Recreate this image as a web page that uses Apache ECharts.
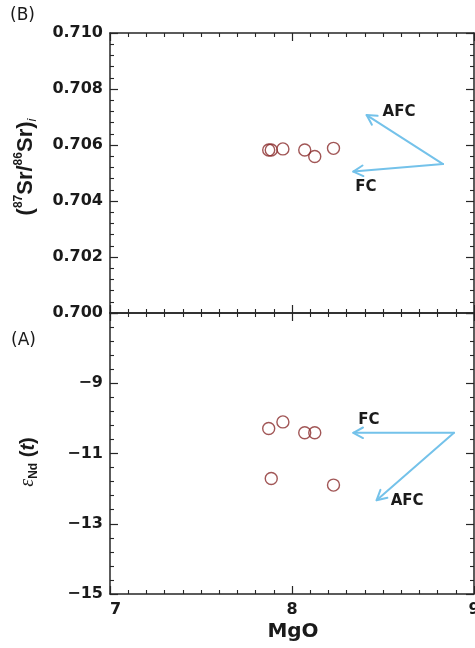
<!DOCTYPE html>
<html>
<head>
<meta charset="utf-8">
<script src="https://cdn.jsdelivr.net/npm/echarts@6/dist/echarts.min.js"></script>
<style>
  html, body { margin: 0; padding: 0; background: #ffffff; }
  #chart { width: 475px; height: 648px; }
</style>
</head>
<body>
<div id="chart"></div>
<script>
// MgO (wt.%) of the six samples, shared by both panels
const mgo = [7.872, 7.886, 7.95, 8.07, 8.125, 8.228];
// Panel B: initial 87Sr/86Sr ratios
const srInitial = [0.70582, 0.70582, 0.70586, 0.70582, 0.70559, 0.70588];
// Panel A: eNd(t)
const epsNd = [-10.29, -11.71, -10.10, -10.41, -10.41, -11.90];

// Tick values and their printed labels
const mgoTicks = [7, 8, 9];
const mgoTickLabels = ['7', '8', '9'];
const srTicks = [0.700, 0.702, 0.704, 0.706, 0.708, 0.710];
const srTickLabels = ['0.700', '0.702', '0.704', '0.706', '0.708', '0.710'];
const ndTicks = [-15, -13, -11, -9, -7];
const ndTickLabels = ['\u221215', '\u221213', '\u221211', '\u22129', ''];

// Trend vectors: common start point, tips and names
const srTrendStart = [8.83, 0.70532];
const srTrendTips = [[8.41, 0.70707], [8.337, 0.70505]];
const srTrendNames = ['AFC', 'FC'];
const ndTrendStart = [8.89, -10.41];
const ndTrendTips = [[8.337, -10.41], [8.465, -12.33]];
const ndTrendNames = ['FC', 'AFC'];

// Pixel offsets of the trend labels from the arrow tips
const srLabelOffsets = { AFC: [16, -3], FC: [2, 16] };
const ndLabelOffsets = { FC: [5, -13], AFC: [14, 1] };

const INK = '#262626';
const ARROW = '#74c2ea';
const RING = '#8a2c2c';

function lookup(ticks, labels) {
  return function (v) {
    for (let i = 0; i < ticks.length; i++) {
      if (Math.abs(ticks[i] - v) < 1e-9) return labels[i];
    }
    return '';
  };
}

const tickFont = { color: '#1a1a1a', fontFamily: 'DejaVu Sans', fontWeight: 'bold', fontSize: 16 };

function axisBase(range, interval, minorSplit) {
  return {
    type: 'value',
    min: range[0],
    max: range[1],
    interval: interval,
    axisLine: { show: true, onZero: false, lineStyle: { color: INK, width: 1.5 } },
    axisTick: { show: true, inside: true, length: 8, lineStyle: { color: INK, width: 1.2 } },
    minorTick: { show: true, splitNumber: minorSplit, length: 4, lineStyle: { color: INK, width: 1.1 } },
    splitLine: { show: false },
    minorSplitLine: { show: false },
    axisLabel: { show: false }
  };
}

const mgoRange = [mgoTicks[0], mgoTicks[mgoTicks.length - 1]];
const srRange = [srTicks[0], srTicks[srTicks.length - 1]];
const ndRange = [ndTicks[0], ndTicks[ndTicks.length - 1]];
const mgoStep = 1, srStep = 0.002, ndStep = 2;

function xAxis(grid, position, labelled) {
  const a = axisBase(mgoRange, mgoStep, 10);
  a.gridIndex = grid;
  a.position = position;
  if (labelled) {
    a.axisLabel = Object.assign({ show: true, margin: 8, alignMinLabel: 'left',
      formatter: lookup(mgoTicks, mgoTickLabels) }, tickFont);
  }
  return a;
}

function yAxis(grid, position, range, step, ticks, labels) {
  const a = axisBase(range, step, 5);
  a.gridIndex = grid;
  a.position = position;
  if (labels) {
    a.axisLabel = Object.assign({ show: true, margin: 7, formatter: lookup(ticks, labels) }, tickFont);
  }
  return a;
}

function trendSeries(xi, yi, start, tips, names, offsets) {
  const rows = tips.map((t, i) => [start[0], start[1], t[0], t[1], names[i]]);
  return {
    type: 'custom',
    xAxisIndex: xi,
    yAxisIndex: yi,
    silent: true,
    clip: false,
    data: rows,
    renderItem: function (params, api) {
      const row = rows[params.dataIndex];
      const p0 = api.coord([row[0], row[1]]);
      const p1 = api.coord([row[2], row[3]]);
      const dx = p1[0] - p0[0], dy = p1[1] - p0[1];
      const len = Math.sqrt(dx * dx + dy * dy);
      const bx = -dx / len, by = -dy / len;
      const headLen = 11, ang = 0.5;
      const arm = s => [
        p1[0] + headLen * (bx * Math.cos(s * ang) - by * Math.sin(s * ang)),
        p1[1] + headLen * (bx * Math.sin(s * ang) + by * Math.cos(s * ang))
      ];
      const off = offsets[row[4]];
      const lineStyle = { stroke: ARROW, lineWidth: 2, fill: null, lineCap: 'round', lineJoin: 'round' };
      return {
        type: 'group',
        children: [
          { type: 'polyline', shape: { points: [p0, p1] }, style: lineStyle },
          { type: 'polyline', shape: { points: [arm(1), p1, arm(-1)] }, style: lineStyle },
          {
            type: 'text',
            x: p1[0] + off[0],
            y: p1[1] + off[1],
            style: {
              text: row[4],
              fill: '#1a1a1a',
              font: 'bold 15px "DejaVu Sans"',
              align: 'left',
              verticalAlign: 'middle'
            }
          }
        ]
      };
    }
  };
}

function scatterSeries(xi, yi, ys) {
  return {
    type: 'scatter',
    xAxisIndex: xi,
    yAxisIndex: yi,
    symbol: 'circle',
    symbolSize: 12,
    data: mgo.map((x, i) => [x, ys[i]]),
    itemStyle: { color: 'rgba(0,0,0,0)', borderColor: RING, borderWidth: 1.4 },
    emphasis: { disabled: true },
    silent: true,
    z: 3
  };
}

const chart = echarts.init(document.getElementById('chart'), null, { renderer: 'canvas' });

chart.setOption({
  backgroundColor: '#ffffff',
  animation: false,
  grid: [
    { left: 110, top: 33, width: 364, height: 280, containLabel: false, outerBoundsMode: 'none' },
    { left: 110, top: 313, width: 364, height: 281, containLabel: false, outerBoundsMode: 'none' }
  ],
  xAxis: [
    xAxis(0, 'bottom', false),
    xAxis(0, 'top', false),
    xAxis(1, 'bottom', true),
    xAxis(1, 'top', false)
  ],
  yAxis: [
    yAxis(0, 'left', srRange, srStep, srTicks, srTickLabels),
    yAxis(0, 'right', srRange, srStep, null, null),
    yAxis(1, 'left', ndRange, ndStep, ndTicks, ndTickLabels),
    yAxis(1, 'right', ndRange, ndStep, null, null)
  ],
  graphic: [
    {
      type: 'text', left: 10, top: 7,
      style: { text: '(B)', fill: '#1a1a1a', font: '17px "DejaVu Sans"' }
    },
    {
      type: 'text', left: 11, top: 332,
      style: { text: '(A)', fill: '#1a1a1a', font: '17px "DejaVu Sans"' }
    },
    {
      type: 'text', x: 26, y: 167, rotation: Math.PI / 2,
      style: {
        text: '{p|(}{sup|87}{p|Sr/}{sup|86}{p|Sr)}{sub|i}',
        align: 'center',
        verticalAlign: 'middle',
        rich: {
          p: { fontSize: 22, fontWeight: 'bold', fontFamily: 'Liberation Sans', fill: '#1a1a1a', lineHeight: 26 },
          sup: { fontSize: 12, fontWeight: 'bold', fontFamily: 'Liberation Sans', fill: '#1a1a1a', lineHeight: 13, verticalAlign: 'top' },
          sub: { fontSize: 13, fontStyle: 'italic', fontFamily: 'Liberation Sans', fill: '#1a1a1a', lineHeight: 11, verticalAlign: 'bottom' }
        }
      }
    },
    {
      type: 'text', x: 28, y: 462, rotation: Math.PI / 2,
      style: {
        text: '{e|\u03b5}{sub|Nd}{p| (}{it|t}{p|)}',
        align: 'center',
        verticalAlign: 'middle',
        rich: {
          e: { fontSize: 20, fontStyle: 'italic', fontFamily: 'Liberation Serif', fill: '#1a1a1a', lineHeight: 24 },
          sub: { fontSize: 12, fontWeight: 'bold', fontFamily: 'Liberation Sans', fill: '#1a1a1a', lineHeight: 11, verticalAlign: 'bottom' },
          p: { fontSize: 20, fontWeight: 'bold', fontFamily: 'Liberation Sans', fill: '#1a1a1a', lineHeight: 24 },
          it: { fontSize: 20, fontWeight: 'bold', fontStyle: 'italic', fontFamily: 'Liberation Sans', fill: '#1a1a1a', lineHeight: 24 }
        }
      }
    },
    {
      type: 'text', x: 293, y: 632,
      style: {
        text: 'MgO', fill: '#1a1a1a', font: 'bold 20px "DejaVu Sans"',
        align: 'center', verticalAlign: 'middle'
      }
    }
  ],
  series: [
    trendSeries(0, 0, srTrendStart, srTrendTips, srTrendNames, srLabelOffsets),
    scatterSeries(0, 0, srInitial),
    trendSeries(2, 2, ndTrendStart, ndTrendTips, ndTrendNames, ndLabelOffsets),
    scatterSeries(2, 2, epsNd)
  ]
});
</script>
</body>
</html>
